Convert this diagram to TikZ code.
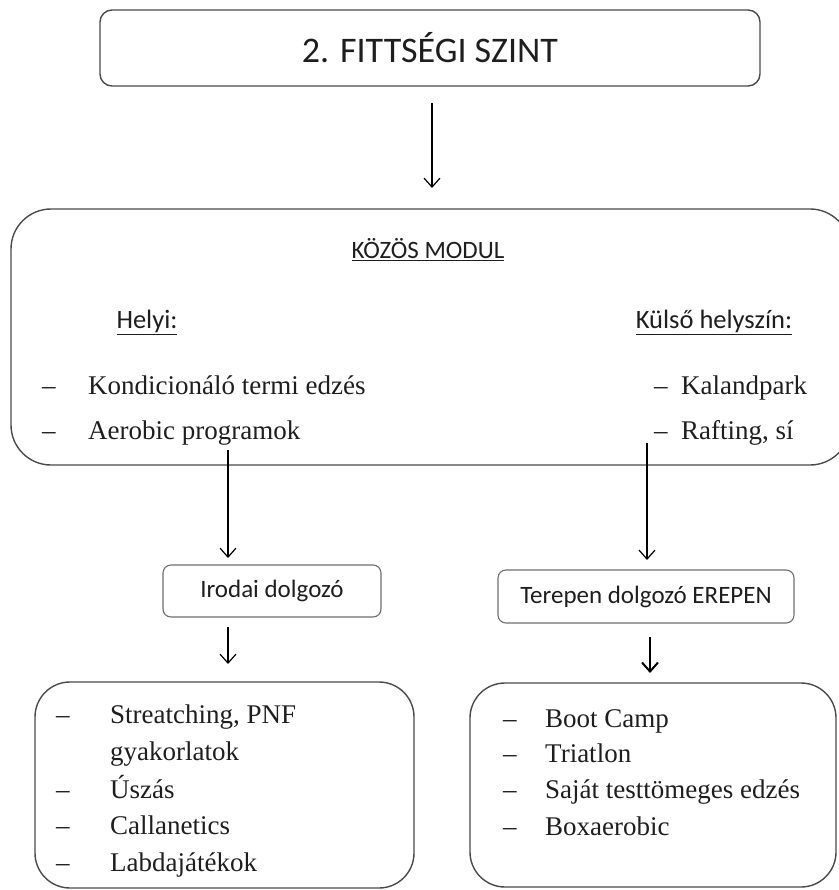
\documentclass[tikz,border=0pt]{standalone}
\usepackage{fontspec}
\setmainfont{Liberation Serif}
\newfontfamily\calib{Carlito}
\usetikzlibrary{arrows.meta}
\definecolor{boxgray}{HTML}{4A4A4A}
\definecolor{txt}{HTML}{1E1E1E}
\begin{document}
\begin{tikzpicture}[x=1pt,y=-1pt,
  box/.style={draw=boxgray, line width=1.4pt, inner sep=0pt},
  smallbox/.style={draw=boxgray!80, line width=1.1pt, rounded corners=8pt, inner sep=0pt},
  arr/.style={-{Straight Barb[length=9pt,width=16pt]}, line width=1.2pt, draw=black},
  sanslbl/.style={font=\calib\fontsize{25}{29}\selectfont, text=txt, inner sep=0pt},
  ser/.style={font=\fontsize{27}{31}\selectfont, text=txt, anchor=base west, inner sep=0pt},
]
\useasboundingbox (0,0) rectangle (838,890);

% top box
\node[box, rounded corners=12pt, minimum width=660pt, minimum height=76pt,
      font=\calib\fontsize{36}{40}\selectfont, text=txt] (title) at (430,48) {2. FITTSÉGI SZINT};

% big box
\node[box, rounded corners=40pt, minimum width=839pt, minimum height=256pt] (big) at (430.5,337) {};
\node[sanslbl] (kozos) at (428,250) {\underline{KÖZÖS MODUL}};
\node[sanslbl, font=\calib\fontsize{26.5}{31}\selectfont] (helyi) at (147,322) {\underline{Helyi:}};
\node[sanslbl, font=\calib\fontsize{26.5}{31}\selectfont] (kulso) at (714,322) {\underline{Külső helyszín:}};
\node[ser] (d1) at (42,394) {–};
\node[ser] (t1) at (88,394) {Kondicionáló termi edzés};
\node[ser] (d2) at (42,439) {–};
\node[ser] (t2) at (88,439) {Aerobic programok};
\node[ser] (d3) at (654,394) {–};
\node[ser] (t3) at (681,394) {Kalandpark};
\node[ser] (d4) at (654,439) {–};
\node[ser] (t4) at (681,439) {Rafting, sí};

% middle boxes
\node[smallbox, minimum width=218pt, minimum height=52pt, sanslbl] (iroda) at (272,591) {Irodai dolgozó};
\node[smallbox, minimum width=296pt, minimum height=53pt, sanslbl] (terep) at (646,596.5) {Terepen dolgozó EREPEN};

% bottom boxes
\node[box, rounded corners=35pt, minimum width=379pt, minimum height=206pt] (bl) at (224.5,785) {};
\node[box, rounded corners=35pt, minimum width=366pt, minimum height=204pt] (br) at (653,785) {};

\node[ser] (bl1d) at (56,723) {–};
\node[ser] (bl1) at (110,723) {Streatching, PNF};
\node[ser] (bl2) at (110,760) {gyakorlatok};
\node[ser] (bl3d) at (56,798) {–};
\node[ser] (bl3) at (110,798) {Úszás};
\node[ser] (bl4d) at (56,834) {–};
\node[ser] (bl4) at (110,834) {Callanetics};
\node[ser] (bl5d) at (56,871) {–};
\node[ser] (bl5) at (110,871) {Labdajátékok};

\node[ser] (br1d) at (503,727) {–};
\node[ser] (br1) at (545,727) {Boot Camp};
\node[ser] (br2d) at (503,762) {–};
\node[ser] (br2) at (545,762) {Triatlon};
\node[ser] (br3d) at (503,798) {–};
\node[ser] (br3) at (545,798) {Saját testtömeges edzés};
\node[ser] (br4d) at (503,835) {–};
\node[ser] (br4) at (545,835) {Boxaerobic};

% arrows
\coordinate (a1s) at (432,103); \coordinate (a1e) at (432,188);
\draw[arr] (a1s) -- (a1e);
\coordinate (a2s) at (228,450); \coordinate (a2e) at (228,558);
\draw[arr] (a2s) -- (a2e);
\coordinate (a3s) at (647,443); \coordinate (a3e) at (647,560);
\draw[arr] (a3s) -- (a3e);
\coordinate (a4s) at (228,627); \coordinate (a4e) at (228,664);
\draw[arr] (a4s) -- (a4e);
\coordinate (a5s) at (650,637); \coordinate (a5e) at (650,673);
\draw[arr, line width=2pt] (a5s) -- (a5e);
\end{tikzpicture}
\end{document}
